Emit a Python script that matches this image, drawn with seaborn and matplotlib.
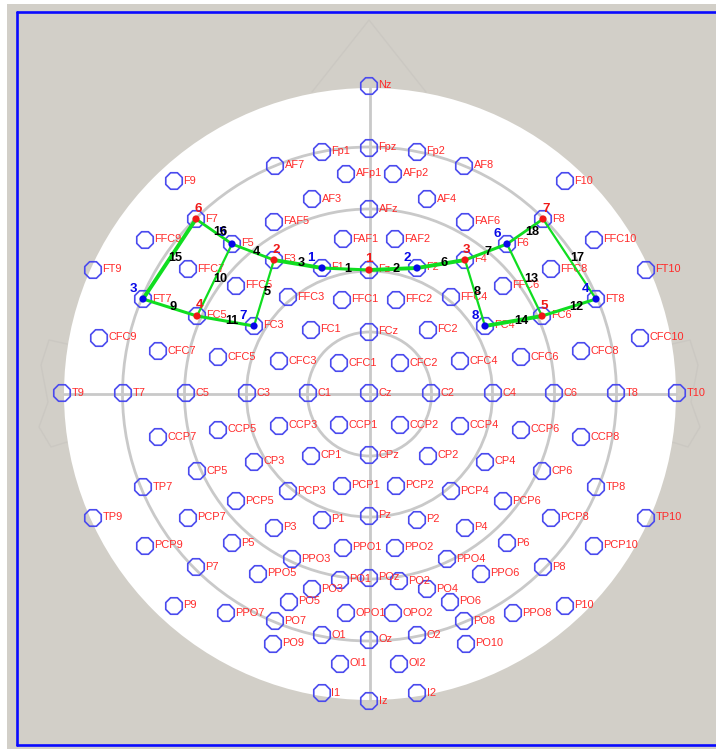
import numpy as np
import pandas as pd
import seaborn as sns
import matplotlib.pyplot as plt
from matplotlib.patches import Circle, Rectangle

# Electrode names and their positions on the head map
names = ["Nz", "Fpz", "Fp1", "Fp2", "AF7", "AF8", "AFp1", "AFp2", "F9", "F10",
         "AF3", "AF4", "AFz", "F7", "F8", "FAF5", "FAF6", "FFC9", "FFC10", "FAF1",
         "FAF2", "F5", "F6", "F3", "F4", "F1", "F2", "Fz", "FT9", "FT10",
         "FFC7", "FFC8", "FFC5", "FFC6", "FFC3", "FFC4", "FFC1", "FFC2", "FT7", "FT8",
         "FC5", "FC6", "FC3", "FC4", "FC1", "FC2", "FCz", "CFC9", "CFC10", "CFC7",
         "CFC8", "CFC5", "CFC6", "CFC3", "CFC4", "CFC1", "CFC2", "T9", "T7", "C5",
         "C3", "C1", "Cz", "C2", "C4", "C6", "T8", "T10", "CCP7", "CCP8",
         "CCP5", "CCP6", "CCP3", "CCP4", "CCP1", "CCP2", "CP5", "CP6", "CP3", "CP4",
         "CP1", "CP2", "CPz", "TP7", "TP8", "PCP5", "PCP6", "PCP3", "PCP4", "PCP1",
         "PCP2", "TP9", "TP10", "PCP7", "PCP8", "P3", "P4", "P1", "P2", "Pz",
         "PCP9", "PCP10", "P5", "P6", "PPO1", "PPO2", "PPO3", "PPO4", "P7", "P8",
         "PPO5", "PPO6", "PO1", "PO2", "POz", "PO3", "PO4", "PO5", "PO6", "P9",
         "P10", "PPO7", "PPO8", "PO7", "PO8", "OPO1", "OPO2", "O1", "O2", "Oz",
         "PO9", "PO10", "OI1", "OI2", "I1", "I2", "Iz"]
pos_x = [369, 369, 322, 417, 275, 464, 346, 393, 174, 565,
         312, 427, 369, 196, 543, 274, 465, 145, 594, 343,
         395, 232, 507, 274, 465, 322, 417, 369, 93, 646,
         188, 551, 236, 503, 288, 451, 342, 396, 143, 596,
         197, 542, 254, 485, 311, 428, 369, 99, 640, 158,
         581, 218, 521, 279, 460, 339, 400, 62, 123, 186,
         247, 308, 369, 431, 493, 554, 616, 677, 158, 581,
         218, 521, 279, 460, 339, 400, 197, 542, 254, 485,
         311, 428, 369, 143, 596, 236, 503, 288, 451, 342,
         396, 93, 646, 188, 551, 274, 465, 322, 417, 369,
         145, 594, 232, 507, 343, 395, 292, 447, 196, 543,
         258, 481, 340, 399, 369, 312, 427, 289, 450, 174,
         565, 226, 513, 275, 464, 346, 393, 322, 417, 369,
         273, 466, 340, 399, 322, 417, 369]
pos_y = [86, 148, 152, 152, 166, 166, 174, 174, 181, 181,
         199, 199, 209, 219, 219, 222, 222, 240, 240, 239,
         239, 244, 244, 260, 260, 268, 268, 270, 270, 270,
         269, 269, 286, 286, 297, 297, 300, 300, 299, 299,
         316, 316, 326, 326, 330, 330, 332, 338, 338, 351,
         351, 357, 357, 361, 361, 363, 363, 393, 393, 393,
         393, 393, 393, 393, 393, 393, 393, 393, 437, 437,
         430, 430, 426, 426, 425, 425, 471, 471, 462, 462,
         456, 456, 455, 487, 487, 501, 501, 491, 491, 486,
         486, 518, 518, 518, 518, 528, 528, 520, 520, 516,
         546, 546, 543, 543, 548, 548, 559, 559, 567, 567,
         574, 574, 580, 581, 578, 589, 589, 602, 602, 606,
         606, 613, 613, 621, 621, 613, 613, 635, 635, 640,
         644, 644, 664, 664, 693, 693, 701]

# Selected sensors, the order gives the number printed next to each
red_sensors = ["Fz", "F3", "F4", "FC5", "FC6", "F7", "F8"]
blue_sensors = ["F1", "F2", "FT7", "FT8", "F5", "F6", "FC3", "FC4"]

# Numbered links between sensors
edge_from = ["F1", "Fz", "F3", "F5", "F3", "F2", "F4", "F4", "FT7",
             "F5", "FC5", "FC6", "F6", "FC4", "FT7", "F7", "F8", "F6"]
edge_to = ["Fz", "F2", "F1", "F3", "FC3", "F4", "F6", "FC4", "FC5",
           "FC5", "FC3", "FT8", "FC6", "FC6", "F7", "F5", "FT8", "F8"]
edge_width = [2.2, 2.8, 2.8, 2.0, 1.6, 2.8, 2.2, 1.6, 2.2,
              1.6, 2.2, 2.2, 1.6, 2.8, 2.8, 2.0, 1.6, 2.0]

ring_radii = [62, 123, 185, 247]

# where the edge numbers and sensor numbers sit
edge_lab_x = [348, 396, 301, 256, 267, 444, 488, 477, 173,
              220, 232, 576, 531, 521, 175, 220, 577, 532]
edge_lab_y = [269, 269, 263, 252, 292, 263, 252, 292, 307,
              279, 321, 307, 279, 321, 258, 232, 258, 232]
red_lab_off = [(0, -11), (2, -10), (1, -10), (2, -11), (2, -10), (2, -10), (3, -10)]
blue_lab_off = [(-11, -10), (-10, -10), (-10, -10), (-10, -10), (-10, -11), (-10, -10), (-11, -10), (-10, -10)]

df = pd.DataFrame({"name": names, "x": pos_x, "y": pos_y})
where = df.set_index("name")

GREY = "#d2cfc8"
RING = "#c9c9c9"
LABEL = "#ff2a2a"
CIRC = "#4a4aee"
GREEN = "#10dd20"

sns.set_style("white")
plt.rcParams["font.family"] = ["Liberation Sans", "DejaVu Sans"]

fig = plt.figure(figsize=(7.16, 7.49), dpi=100)
ax = fig.add_axes([0, 0, 1, 1])
ax.set_xlim(0, 716)
ax.set_ylim(749, 0)
ax.axis("off")

# backdrop, frame and head
ax.add_patch(Rectangle((7, 4), 709, 745, fc=GREY, ec="none", zorder=0))
ax.plot([17, 17], [12, 745], color="#0a0aff", lw=1.9, zorder=1)
ax.plot([17, 716], [12, 12], color="#0a0aff", lw=1.9, zorder=1)
ax.plot([17, 716], [745, 745], color="#0a0aff", lw=1.9, zorder=1)

# faint nose and ears behind the head
faint = "#cbc8c2"
ax.plot([312, 369, 426], [92, 20, 92], color=faint, lw=1, zorder=1)
ear_x = np.array([672, 690, 698, 691, 700, 688, 672])
ear_y = [344, 340, 365, 402, 427, 447, 442]
ax.plot(ear_x, ear_y, color=faint, lw=1, zorder=1)
ax.plot(739 - ear_x, ear_y, color=faint, lw=1, zorder=1)

ax.add_patch(Circle((370, 394), 306, fc="white", ec="none", zorder=2))
for r in ring_radii:
    ax.add_patch(Circle((369.5, 394), r, fc="none", ec=RING, lw=2, zorder=3))
ax.plot([369.5, 369.5], [88, 700], color=RING, lw=2, zorder=3)
ax.plot([64, 676], [394, 394], color=RING, lw=2, zorder=3)

# all electrodes as hollow octagons
sns.scatterplot(data=df, x="x", y="y", marker="8", s=165, ax=ax, legend=False,
                facecolor="none", edgecolor=CIRC, linewidth=1.2, zorder=5)
for name, x, y in zip(names, pos_x, pos_y):
    ax.text(x + 9.5, y - 0.5, name, color=LABEL, fontsize=7.9, va="center", ha="left", zorder=6)

# links
for a, b, w in zip(edge_from, edge_to, edge_width):
    ax.plot([where.x[a], where.x[b]], [where.y[a], where.y[b]], color=GREEN, lw=w,
            solid_capstyle="round", zorder=7)

# selected sensors
red_df = where.loc[red_sensors].reset_index()
blue_df = where.loc[blue_sensors].reset_index()
sns.scatterplot(data=red_df, x="x", y="y", s=27, color="#f01818", edgecolor="none", ax=ax, legend=False, zorder=8)
sns.scatterplot(data=blue_df, x="x", y="y", s=27, color="#0808e8", edgecolor="none", ax=ax, legend=False, zorder=8)

for i, (row, off) in enumerate(zip(red_df.itertuples(), red_lab_off)):
    ax.text(row.x + off[0], row.y + off[1], str(i + 1), color="#f01818", fontsize=9.6,
            fontweight="bold", ha="center", va="center", zorder=9)
for i, (row, off) in enumerate(zip(blue_df.itertuples(), blue_lab_off)):
    ax.text(row.x + off[0], row.y + off[1], str(i + 1), color="#0808e8", fontsize=9.6,
            fontweight="bold", ha="center", va="center", zorder=9)

for i, (x, y) in enumerate(zip(edge_lab_x, edge_lab_y)):
    ax.text(x, y, str(i + 1), color="black", fontsize=9.2, fontweight="bold",
            ha="center", va="center", zorder=10)

ax.set_xlabel("")
ax.set_ylabel("")
fig.savefig("out.png", dpi=100, facecolor="white")
